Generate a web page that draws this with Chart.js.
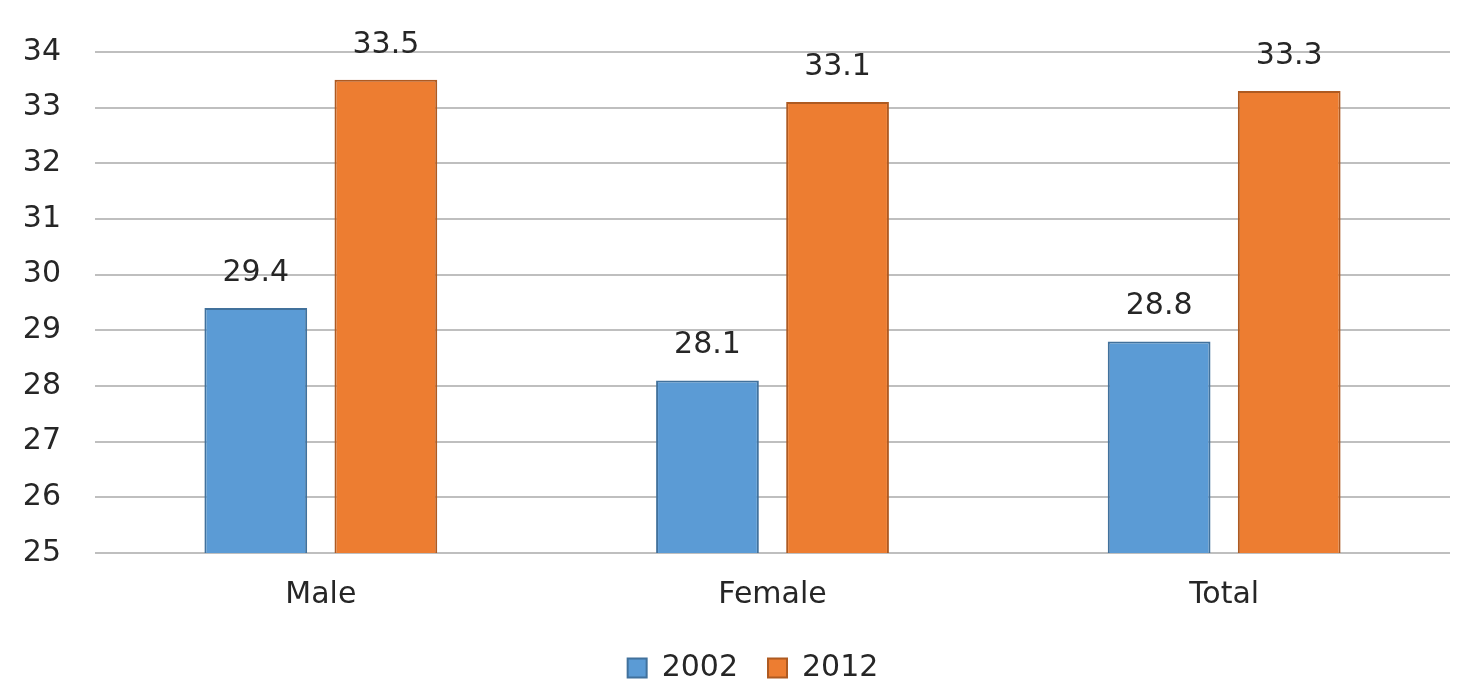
<!DOCTYPE html>
<html>
<head>
<meta charset="utf-8">
<script src="https://cdn.jsdelivr.net/npm/chart.js@4"></script>
<style>
  html, body { margin: 0; padding: 0; background: #fff; }
  #wrap { width: 1480px; height: 691px; }
</style>
</head>
<body>
<div id="wrap"><canvas id="chart" width="1480" height="691"></canvas></div>
<script>
const categories = ['Male', 'Female', 'Total'];
const years = ['2002', '2012'];
const values2002 = [29.4, 28.1, 28.8];
const values2012 = [33.5, 33.1, 33.3];
const yTicks = [25, 26, 27, 28, 29, 30, 31, 32, 33, 34];

const FONT = 'DejaVu Sans';
const TEXT = '#262626';

// value labels above each bar
const barLabels = {
    id: 'barLabels',
    afterDatasetsDraw(chart) {
        const ctx = chart.ctx;
        ctx.save();
        ctx.font = '30px "' + FONT + '"';
        ctx.fillStyle = TEXT;
        ctx.textAlign = 'center';
        ctx.textBaseline = 'middle';
        chart.data.datasets.forEach((ds, i) => {
            chart.getDatasetMeta(i).data.forEach((bar, j) => {
                ctx.fillText(ds.data[j].toFixed(1), bar.x, bar.y - 35);
            });
        });
        ctx.restore();
    }
};

// wide gap between legend items but a short legend box, nudged right
const legendFix = {
    id: 'legendFix',
    beforeLayout(chart) {
        const lg = chart.legend;
        if (lg && !lg._patched) {
            const fit = lg.fit;
            lg.fit = function () {
                fit.call(this);
                this.height = 68;
            };
            lg._patched = true;
        }
    },
    afterLayout(chart) {
        const lg = chart.legend;
        if (lg) {
            lg.left += 28;
            lg.right += 28;
        }
    }
};

new Chart(document.getElementById('chart').getContext('2d'), {
    type: 'bar',
    data: {
        labels: categories,
        datasets: [
            {
                label: years[0],
                data: values2002,
                backgroundColor: '#5B9BD5',
                borderColor: '#41719C',
                borderWidth: 2
            },
            {
                label: years[1],
                data: values2012,
                backgroundColor: '#ED7D31',
                borderColor: '#AE5A21',
                borderWidth: 2
            }
        ]
    },
    options: {
        responsive: false,
        animation: false,
        devicePixelRatio: 1,
        layout: {
            padding: { top: 51, right: 30, bottom: 0, left: 0 }
        },
        datasets: {
            bar: {
                categoryPercentage: 0.576,
                barPercentage: 0.79
            }
        },
        plugins: {
            tooltip: { enabled: false },
            legend: {
                position: 'bottom',
                labels: {
                    font: { family: FONT, size: 30 },
                    color: TEXT,
                    boxWidth: 19,
                    boxHeight: 19,
                    padding: 30
                }
            }
        },
        scales: {
            x: {
                grid: { display: false },
                border: { display: false },
                ticks: {
                    font: { family: FONT, size: 30 },
                    color: TEXT,
                    padding: 16
                },
                afterFit(scale) { scale.height = 70; }
            },
            y: {
                min: yTicks[0],
                max: yTicks[yTicks.length - 1],
                afterBuildTicks(scale) {
                    scale.ticks = yTicks.map(v => ({ value: v }));
                },
                grid: { color: '#BFBFBF', lineWidth: 2, drawTicks: false },
                border: { display: false },
                ticks: {
                    font: { family: FONT, size: 30 },
                    color: TEXT,
                    padding: 34
                },
                afterFit(scale) { scale.width = 95; }
            }
        }
    },
    plugins: [barLabels, legendFix]
});
</script>
</body>
</html>
